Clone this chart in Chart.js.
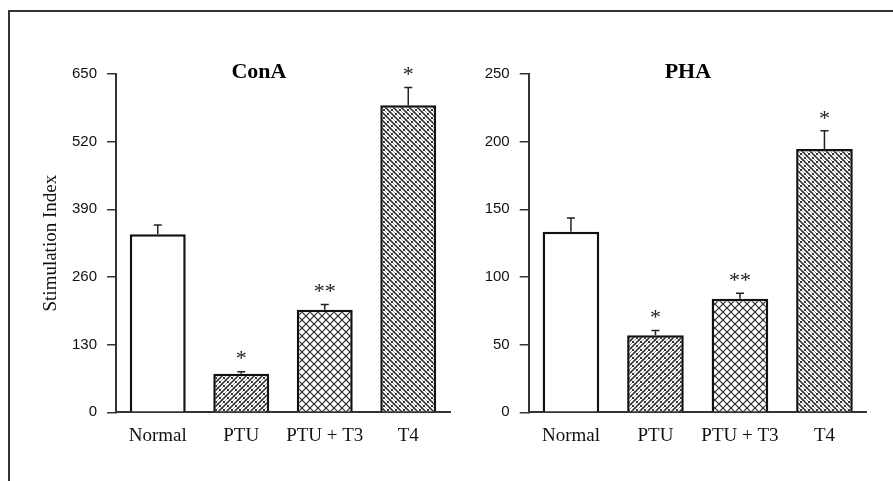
<!DOCTYPE html>
<html>
<head>
<meta charset="utf-8">
<script src="https://cdn.jsdelivr.net/npm/chart.js@4.4.1/dist/chart.umd.min.js"></script>
<style>
  body { margin: 0; background: #fff; }
  #frame { position: absolute; left: 8px; top: 10px; width: 885px; height: 471px;
           border-top: 2px solid #333; border-left: 2px solid #333; }
  #left { position: absolute; left: 10px; top: 12px; }
  #right { position: absolute; left: 455px; top: 12px; }
</style>
</head>
<body>
<div id="frame"></div>
<canvas id="left" width="445" height="469"></canvas>
<canvas id="right" width="438" height="469"></canvas>
<script>
const groups = ["Normal", "PTU", "PTU + T3", "T4"];

const conaValues = [342, 74, 197, 590];
const conaErrors = [18, 4, 10, 34];
const conaMarks = ["", "*", "**", "*"];
const conaTicks = [0, 130, 260, 390, 520, 650];

const phaValues = [133.5, 57, 84, 194.5];
const phaErrors = [10, 3.5, 4, 13.5];
const phaMarks = ["", "*", "**", "*"];
const phaTicks = [0, 50, 100, 150, 200, 250];

const SERIF = "'Liberation Serif', 'Times New Roman', serif";
const SANS = "'Liberation Sans', Arial, sans-serif";

// hatch tiles for the bar fills
function makePattern(kind) {
  const s = 8;
  const c = document.createElement("canvas");
  c.width = s; c.height = s;
  const g = c.getContext("2d");
  g.fillStyle = "#fff";
  g.fillRect(0, 0, s, s);
  g.strokeStyle = "#222";
  g.lineWidth = 1.4;
  const line = (x1, y1, x2, y2) => { g.beginPath(); g.moveTo(x1, y1); g.lineTo(x2, y2); g.stroke(); };
  const dot = (x, y) => {
    g.save(); g.lineWidth = 1; g.strokeStyle = "#333";
    line(x - 1.5, y - 1.5, x + 1.5, y + 1.5); line(x - 1.5, y + 1.5, x + 1.5, y - 1.5);
    g.restore();
  };
  if (kind === "fwd") {
    line(-1, s + 1, s + 1, -1); line(-1, 1, 1, -1); line(s - 1, s + 1, s + 1, s - 1);
    dot(2, 2); dot(6, 6);
  } else if (kind === "back") {
    line(-1, -1, s + 1, s + 1); line(s - 1, -1, s + 1, 1); line(-1, s - 1, 1, s + 1);
    dot(6, 2); dot(2, 6);
  } else if (kind === "cross") {
    g.strokeStyle = "#2a2a2a"; g.lineWidth = 1.2;
    line(-1, -1, s + 1, s + 1); line(-1, s + 1, s + 1, -1);
  }
  return g.createPattern(c, "repeat");
}

const fills = ["#fff", makePattern("fwd"), makePattern("cross"), makePattern("back")];

// error bars, significance marks and panel title
const extras = {
  id: "extras",
  afterDatasetsDraw(chart, args, opts) {
    const { ctx, chartArea, scales: { y } } = chart;
    const ds = chart.data.datasets[0];
    const meta = chart.getDatasetMeta(0);
    ctx.save();
    ctx.strokeStyle = "#222";
    ctx.lineWidth = 1.5;
    ctx.fillStyle = "#222";
    ctx.font = "22px " + SERIF;
    ctx.textAlign = "center";
    ctx.textBaseline = "middle";
    meta.data.forEach((bar, i) => {
      const top = y.getPixelForValue(ds.data[i] + opts.errors[i]);
      ctx.beginPath();
      ctx.moveTo(bar.x, bar.y);
      ctx.lineTo(bar.x, top);
      ctx.moveTo(bar.x - 4, top);
      ctx.lineTo(bar.x + 4, top);
      ctx.stroke();
      if (opts.marks[i]) ctx.fillText(opts.marks[i], bar.x, top - 12);
    });
    ctx.font = "bold 22px " + SERIF;
    ctx.fillStyle = "#000";
    ctx.textBaseline = "alphabetic";
    ctx.fillText(opts.title, chartArea.left + (chartArea.right - chartArea.left) * opts.titlePos, chartArea.top + 4);
    ctx.restore();
  }
};

function panel(id, values, errors, marks, ticks, title, titlePos, axisWidth, padRight, yTitle) {
  new Chart(document.getElementById(id), {
    type: "bar",
    data: {
      labels: groups,
      datasets: [{
        data: values,
        backgroundColor: fills,
        borderColor: "#111",
        borderWidth: 2.5,
        borderSkipped: "bottom",
        categoryPercentage: 1,
        barPercentage: 0.67
      }]
    },
    plugins: [extras],
    options: {
      responsive: false,
      animation: false,
      layout: { padding: { top: 62, right: padRight, bottom: 0, left: 0 } },
      plugins: {
        legend: { display: false },
        tooltip: { enabled: false },
        extras: { errors: errors, marks: marks, title: title, titlePos: titlePos }
      },
      scales: {
        x: {
          grid: { display: false, drawTicks: false },
          border: { display: true, color: "#333", width: 2 },
          ticks: { color: "#111", padding: 12, font: { family: SERIF, size: 19 } },
          afterFit: s => { s.height = 68.7; }
        },
        y: {
          min: ticks[0],
          max: ticks[ticks.length - 1],
          afterBuildTicks: s => { s.ticks = ticks.map(v => ({ value: v })); },
          grid: { drawOnChartArea: false, drawTicks: true, tickLength: 9, color: "#333", lineWidth: 1.5 },
          border: { display: true, color: "#333", width: 2 },
          ticks: { color: "#111", padding: 10, font: { family: SANS, size: 15 } },
          title: {
            display: !!yTitle,
            text: yTitle,
            color: "#111",
            padding: { top: 30 },
            font: { family: SERIF, size: 19, weight: "normal" },
            align: "center"
          },
          afterFit: s => { s.width = axisWidth; }
        }
      }
    }
  });
}

panel("left", conaValues, conaErrors, conaMarks, conaTicks, "ConA", 0.428, 106, 5, "Stimulation Index");
panel("right", phaValues, phaErrors, phaMarks, phaTicks, "PHA", 0.471, 73.7, 26.3, "");
</script>
</body>
</html>
